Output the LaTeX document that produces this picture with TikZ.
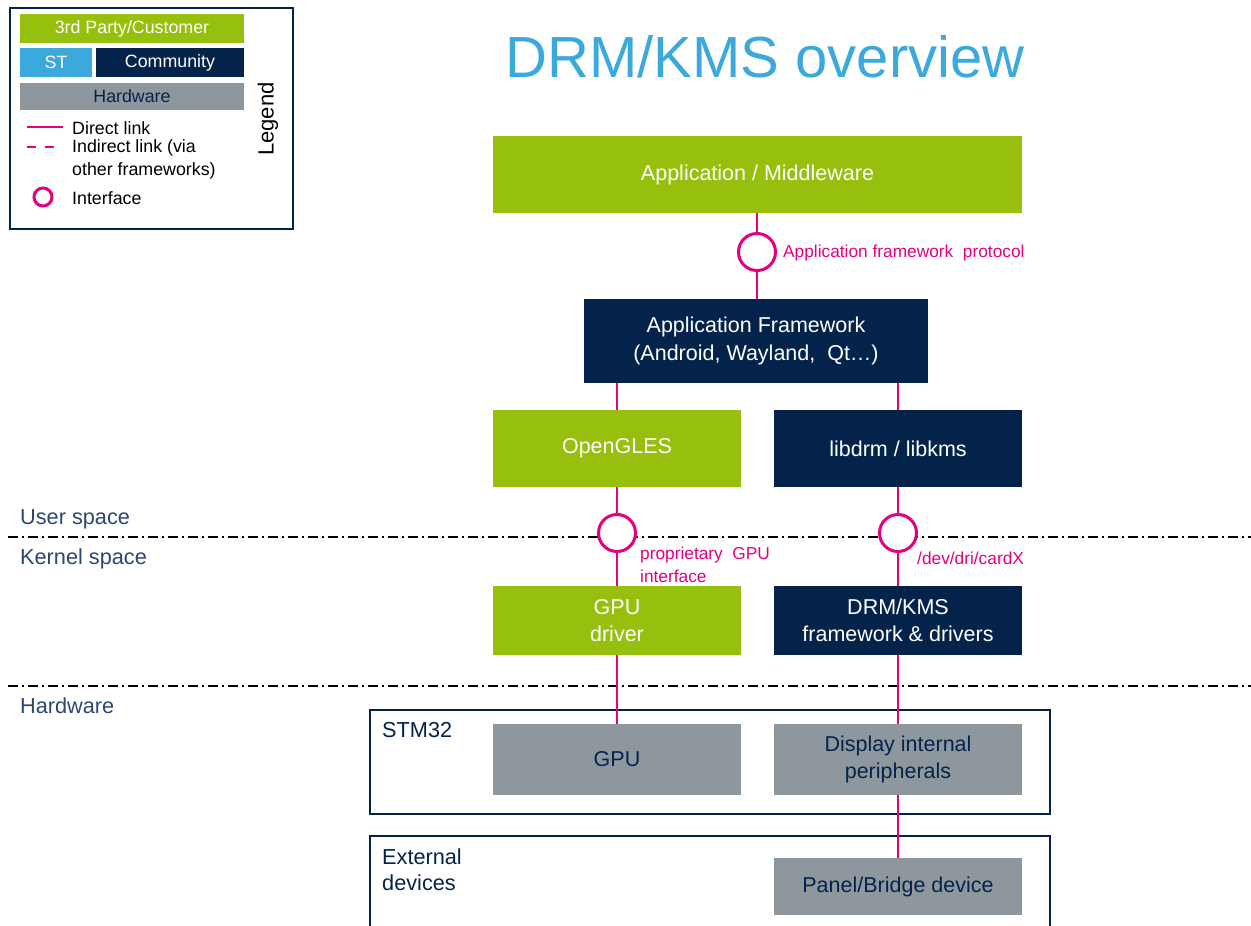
\documentclass[tikz,border=0pt]{standalone}
\usepackage{fontspec}
\setmainfont{Liberation Sans}
\definecolor{stgreen}{HTML}{97C00E}
\definecolor{stnavy}{HTML}{03234B}
\definecolor{stblue}{HTML}{3CA9DD}
\definecolor{stgray}{HTML}{8F979E}
\definecolor{stmag}{HTML}{E6007E}
\definecolor{lbltxt}{HTML}{2B4670}
\tikzset{
  blk/.style={rectangle, inner sep=0pt, align=center, font=\fontsize{21.5}{26.5}\selectfont},
  greenbox/.style={blk, fill=stgreen, text=white},
  navybox/.style={blk, fill=stnavy, text=white},
  graybox/.style={blk, fill=stgray, text=stnavy},
  legbox/.style={font=\fontsize{17.8}{20}\selectfont},
  iface/.style={circle, draw=stmag, line width=3pt, fill=white, minimum size=37pt, inner sep=0pt},
  link/.style={draw=stmag, line width=2.6pt},
  mlabel/.style={text=stmag, inner sep=0pt, align=left, font=\fontsize{17.3}{23}\selectfont},
  sectlbl/.style={text=lbltxt, inner sep=0pt, anchor=west, font=\fontsize{21.7}{26}\selectfont},
  sep/.style={line width=1.3pt, dash pattern=on 10pt off 4pt on 2pt off 4pt},
  hwframe/.style={draw=stnavy, line width=1.2pt},
  legtxt/.style={anchor=west, inner sep=0pt, align=left, font=\fontsize{17.8}{23}\selectfont}
}
\begin{document}
\begin{tikzpicture}[x=1pt, y=-1pt]
\useasboundingbox (0,0) rectangle (1251,926);
% Legend
\draw[draw=stnavy, line width=2pt] (10,8) rectangle (293,229);
\node[greenbox, legbox, minimum width=224pt, minimum height=29pt] (lg3rd) at (132,28.5) {3rd Party/Customer};
\node[blk, legbox, fill=stblue, text=white, minimum width=72pt, minimum height=29pt] (lgst) at (56,62.5) {ST};
\node[navybox, legbox, minimum width=148pt, minimum height=29pt] (lgcom) at (170,62.5) {Community};
\node[graybox, legbox, minimum width=224pt, minimum height=27pt] (lghw) at (132,96.5) {Hardware};
\coordinate (ld1) at (27,127); \coordinate (ld2) at (63,127);
\draw[link] (ld1) -- (ld2);
\node[legtxt] (lgdir) at (72,128) {Direct link};
\coordinate (li1) at (27,147); \coordinate (li2) at (63,147);
\draw[link, dash pattern=on 9pt off 9pt] (li1) -- (li2);
\node[legtxt] (lgind) at (72,159.5) {Indirect link (via\\other frameworks)};
\node[circle, draw=stmag, line width=3pt, minimum size=18pt, inner sep=0pt] (lgcirc) at (43,197) {};
\node[legtxt] (lgif) at (72,198) {Interface};
\node[rotate=90, inner sep=0pt, font=\fontsize{22}{26}\selectfont] (lglegend) at (268,119) {Legend};
% Title
\node[text=stblue, inner sep=0pt, font=\fontsize{58}{66}\selectfont] (title) at (765,57) {DRM/KMS overview};
% Separators
\coordinate (s1a) at (8,537); \coordinate (s1b) at (1251,537);
\coordinate (s2a) at (8,686); \coordinate (s2b) at (1251,686);
\draw[sep] (s1a) -- (s1b);
\draw[sep] (s2a) -- (s2b);
\node[sectlbl] (us) at (20,519) {User space};
\node[sectlbl] (ks) at (20,559) {Kernel space};
\node[sectlbl] (hwl) at (20,706) {Hardware};
% Hardware frames
\draw[hwframe] (370,710) rectangle (1050,814);
\draw[hwframe] (370,926) -- (370,836) -- (1050,836) -- (1050,926);
\node[sectlbl, text=stnavy] (stm) at (382,730) {STM32};
\node[sectlbl, text=stnavy, align=left] (ext) at (382,870) {External\\devices};
% Boxes
\node[greenbox, minimum width=529pt, minimum height=77pt] (appmw) at (757.5,174.5) {Application / Middleware};
\node[navybox, minimum width=344pt, minimum height=84pt, font=\fontsize{21.5}{28}\selectfont] (appfw) at (756,341) {Application Framework\\(Android, Wayland,\ \ Qt\dots)};
\node[greenbox, minimum width=248pt, minimum height=77pt] (gles) at (617,448.5) {OpenGLES};
\node[navybox, minimum width=248pt, minimum height=77pt] (libdrm) at (898,448.5) {libdrm / libkms};
\node[greenbox, minimum width=248pt, minimum height=69pt] (gpudrv) at (617,620.5) {GPU\\driver};
\node[navybox, minimum width=248pt, minimum height=69pt] (drmkms) at (898,620.5) {DRM/KMS\\framework \& drivers};
\node[graybox, minimum width=248pt, minimum height=71pt] (gpu) at (617,759.5) {GPU};
\node[graybox, minimum width=248pt, minimum height=71pt] (disp) at (898,759.5) {Display internal\\peripherals};
\node[graybox, minimum width=248pt, minimum height=57pt] (panel) at (898,886.5) {Panel/Bridge device};
% Links and interfaces
\coordinate (c1pos) at (757,252);
\draw[link] (appmw.south -| c1pos) -- (appfw.north -| c1pos);
\node[iface] (c1) at (c1pos) {};
\draw[link] (appfw.south -| gles.north) -- (gles.north);
\draw[link] (appfw.south -| libdrm.north) -- (libdrm.north);
\draw[link] (gles.south) -- (gpudrv.north);
\draw[link] (libdrm.south) -- (drmkms.north);
\node[iface] (c2) at (617,533) {};
\node[iface] (c3) at (898,533) {};
\draw[link] (gpudrv.south) -- (gpu.north);
\draw[link] (drmkms.south) -- (disp.north);
\draw[link] (disp.south) -- (panel.north);
% Interface labels
\node[mlabel, anchor=west] (l1) at (783,253) {Application framework\ \ protocol};
\node[mlabel, anchor=west] (l2) at (640,565) {proprietary\ \ GPU\\interface};
\node[mlabel, anchor=west] (l3) at (917,558) {/dev/dri/cardX};
\end{tikzpicture}
\end{document}
